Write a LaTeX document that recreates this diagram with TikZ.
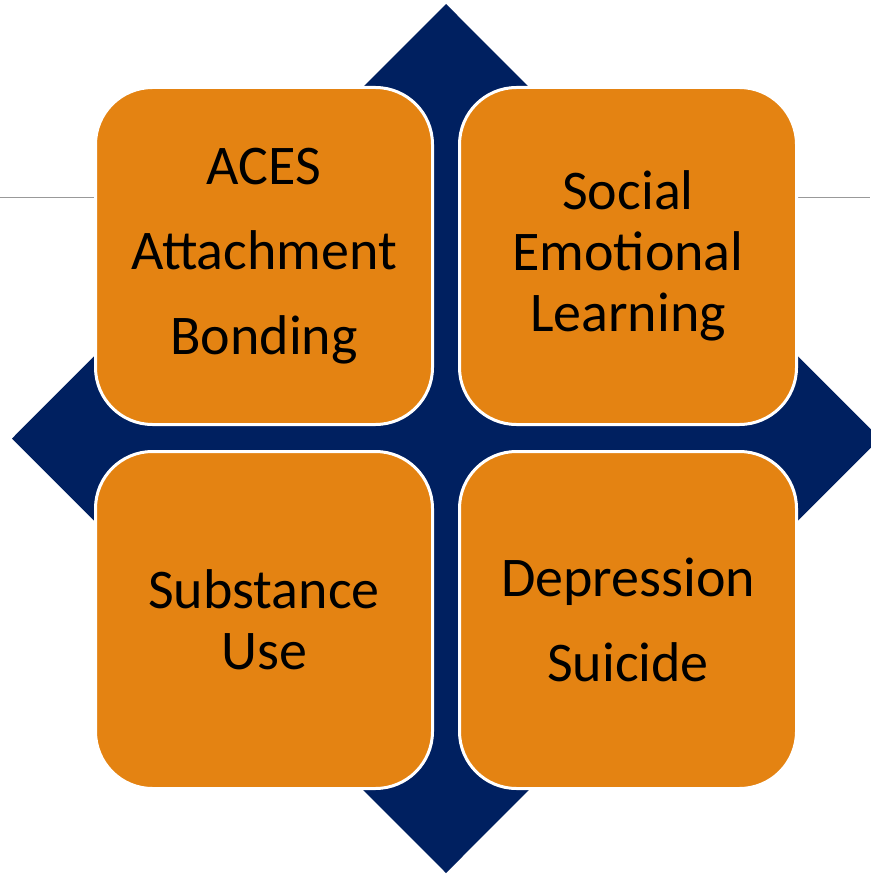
\documentclass[tikz,border=0pt]{standalone}
\usepackage{fontspec}
\setmainfont{Carlito}
\usetikzlibrary{shapes,positioning}

\definecolor{navy}{RGB}{0,32,96}
\definecolor{amber}{RGB}{228,131,18}

\begin{document}
\begin{tikzpicture}[x=1pt, y=-1pt, node distance=24pt, auto]
    % Define styles
    \tikzstyle{topic} = [rectangle, rounded corners=57pt, minimum width=337pt, minimum height=337pt, text centered, align=center, draw=white, line width=3pt, fill=amber, text=black, font=\fontsize{56}{61}\selectfont]
    \tikzstyle{hubshape} = [diamond, fill=navy, minimum width=868pt, minimum height=869pt, inner sep=0pt, outer sep=0pt]
    \tikzstyle{rule} = [draw=gray!80, line width=1.5pt]

    \useasboundingbox (0,0) rectangle (870,874);

    % Rule across the page, behind everything
    \coordinate (ruleL) at (0,197.5);
    \coordinate (ruleR) at (870,197.5);
    \draw [rule] (ruleL) -- (ruleR);

    % Backing diamond
    \node [hubshape] (hub) at (446,438.5) {};

    % Nodes
    \node [topic] (aces) at (264,256) {ACES\\[24pt]Attachment\\[24pt]Bonding};
    \node [topic, right=of aces] (sel) {Social\\Emotional\\Learning};
    \node [topic, below=of aces] (substance) {Substance\\Use};
    \node [topic, below=of sel] (depression) {Depression\\[24pt]Suicide};
\end{tikzpicture}
\end{document}
